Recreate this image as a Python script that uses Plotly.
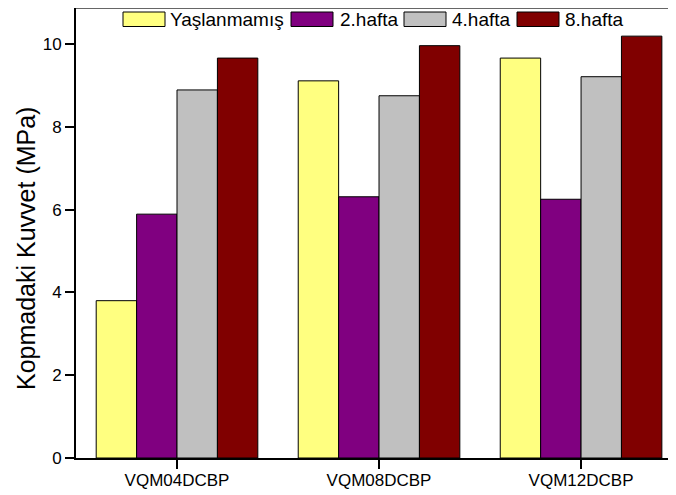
import plotly.graph_objects as go

categories = ["VQM04DCBP", "VQM08DCBP", "VQM12DCBP"]
series_names = ["Yaşlanmamış", "2.hafta", "4.hafta", "8.hafta"]
yaslanmamis = [3.80, 9.11, 9.66]
hafta2 = [5.89, 6.31, 6.25]
hafta4 = [8.89, 8.75, 9.21]
hafta8 = [9.66, 9.96, 10.19]
series_values = [yaslanmamis, hafta2, hafta4, hafta8]
colors = ["#FFFF80", "#800080", "#C0C0C0", "#800000"]
y_ticks = [0, 2, 4, 6, 8, 10]

# page offset caused by the default body margin of the html page
OFF = 8
W, H = 676 - OFF, 495 - OFF
ML, MR, MT, MB = 68, 0, 0, 37
PW = W - ML - MR
PH = H - MT - MB

def px_x(page_x):
    return (page_x - OFF - ML) / PW

def px_y(page_y):
    return (H - MB - (page_y - OFF)) / PH

font_family = "Liberation Sans, Arial, sans-serif"

fig = go.Figure()
for name, vals, col in zip(series_names, series_values, colors):
    fig.add_trace(go.Bar(
        x=categories, y=vals, name=name,
        marker=dict(color=col, line=dict(color="#000000", width=1)),
        showlegend=False,
    ))

# custom legend (swatches + labels)
box_left = [123, 291, 404, 517]
text_left = [168, 338, 450, 563]
box_w = 42
box_top, box_bot = 12, 26.5
shapes = []
annotations = []
for i, (name, col) in enumerate(zip(series_names, colors)):
    shapes.append(dict(type="rect", xref="paper", yref="paper",
                       x0=px_x(box_left[i]), x1=px_x(box_left[i] + box_w),
                       y0=px_y(box_bot), y1=px_y(box_top),
                       fillcolor=col, line=dict(color="#000000", width=1)))
    annotations.append(dict(text=name, xref="paper", yref="paper",
                            x=px_x(text_left[i]), y=px_y(19.5),
                            xanchor="left", yanchor="middle", showarrow=False,
                            font=dict(family=font_family, size=19, color="#000000")))

# top frame line
shapes.append(dict(type="line", xref="paper", yref="paper", x0=0, x1=1, y0=1, y1=1,
                   line=dict(color="#333333", width=1.5)))

# y-axis title
annotations.append(dict(text="Kopmadaki Kuvvet (MPa)", xref="paper", yref="paper",
                        x=px_x(26), y=px_y(249), textangle=-90,
                        xanchor="center", yanchor="middle", showarrow=False,
                        font=dict(family=font_family, size=25, color="#000000")))

fig.update_layout(
    width=W, height=H,
    margin=dict(l=ML, r=MR, t=MT, b=MB, pad=0),
    paper_bgcolor="white", plot_bgcolor="white",
    barmode="group", bargap=0.2, bargroupgap=0,
    shapes=shapes, annotations=annotations,
    font=dict(family=font_family, color="#000000"),
)
fig.update_xaxes(
    type="category", range=[-0.5, 2.47],
    showline=True, linecolor="#000000", linewidth=2,
    ticks="outside", ticklen=9, tickwidth=1.5, tickcolor="#000000",
    ticklabelstandoff=-3,
    showgrid=False, zeroline=False,
    tickfont=dict(family=font_family, size=17, color="#000000"),
)
fig.update_yaxes(
    range=[0, (458 - 8) / 41.4], tickvals=y_ticks,
    showline=True, linecolor="#000000", linewidth=2,
    ticks="outside", ticklen=9, tickwidth=2, tickcolor="#000000",
    showgrid=False, zeroline=False,
    tickfont=dict(family=font_family, size=17, color="#000000"),
)

fig.write_html("out.html")
